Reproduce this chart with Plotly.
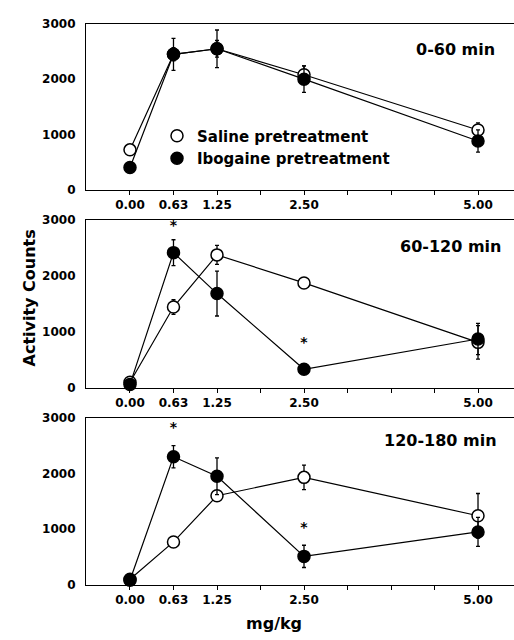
import plotly.graph_objects as go

# ---- data ----
doses = [0.0, 0.625, 1.25, 2.5, 5.0]
tick_vals = [0, 0.625, 1.25, 1.875, 2.5, 3.125, 3.75, 4.375, 5.0]
tick_text = ["0.00", "0.63", "1.25", "", "2.50", "", "", "", "5.00"]
y_ticks = [0, 1000, 2000, 3000]

panel_titles = ["0-60 min", "60-120 min", "120-180 min"]

saline_0_60 = [720, 2450, 2550, 2080, 1080]
saline_0_60_se = [50, 120, 150, 160, 130]
ibogaine_0_60 = [400, 2450, 2550, 2000, 880]
ibogaine_0_60_se = [60, 290, 340, 240, 200]

saline_60_120 = [100, 1440, 2370, 1870, 810]
saline_60_120_se = [40, 130, 170, 60, 300]
ibogaine_60_120 = [60, 2410, 1680, 330, 870]
ibogaine_60_120_se = [40, 230, 400, 80, 280]

saline_120_180 = [100, 770, 1600, 1930, 1240]
saline_120_180_se = [40, 50, 80, 220, 400]
ibogaine_120_180 = [80, 2300, 1950, 510, 950]
ibogaine_120_180_se = [60, 200, 330, 200, 260]

star_x_0_60 = []
star_y_0_60 = []
star_x_60_120 = [0.625, 2.5]
star_y_60_120 = [2870, 790]
star_x_120_180 = [0.625, 2.5]
star_y_120_180 = [2810, 1010]

panels = [
    (saline_0_60, saline_0_60_se, ibogaine_0_60, ibogaine_0_60_se, star_x_0_60, star_y_0_60),
    (saline_60_120, saline_60_120_se, ibogaine_60_120, ibogaine_60_120_se, star_x_60_120, star_y_60_120),
    (saline_120_180, saline_120_180_se, ibogaine_120_180, ibogaine_120_180_se, star_x_120_180, star_y_120_180),
]

# ---- layout geometry (pixels) ----
W, H = 514, 640
FONT = "DejaVu Sans"
panel_px = [(17.3, 186.7), (217.3, 389.3), (420.0, 590.7)]
title_px = [(455, 43), (450, 245), (440, 443)]

fig = go.Figure()

for i, (sal, sal_se, ibo, ibo_se, sx, sy) in enumerate(panels):
    xa = "x" if i == 0 else f"x{i+1}"
    ya = "y" if i == 0 else f"y{i+1}"
    for vals, se, fill, name in [(sal, sal_se, "white", "Saline pretreatment"),
                                 (ibo, ibo_se, "black", "Ibogaine pretreatment")]:
        fig.add_trace(go.Scatter(
            x=doses, y=vals, mode="lines", showlegend=False, hoverinfo="skip",
            xaxis=xa, yaxis=ya, cliponaxis=False,
            line=dict(color="black", width=1.2),
        ))
        fig.add_trace(go.Scatter(
            x=doses, y=vals, mode="markers", name=name,
            xaxis=xa, yaxis=ya, showlegend=(i == 0), cliponaxis=False,
            marker=dict(symbol="circle", size=12, color=fill, line=dict(color="black", width=1.5)),
            error_y=dict(type="data", array=se, visible=True, color="black", thickness=1.3, width=2),
        ))
    if sx:
        fig.add_trace(go.Scatter(
            x=sx, y=sy, mode="text", text=["*"] * len(sx), showlegend=False,
            xaxis=xa, yaxis=ya, cliponaxis=False,
            textfont=dict(family=FONT, size=14, color="black", weight="bold"),
        ))

    top, bot = panel_px[i]
    dom = [1 - bot / H, 1 - top / H]
    xkey = "xaxis" if i == 0 else f"xaxis{i+1}"
    ykey = "yaxis" if i == 0 else f"yaxis{i+1}"
    fig.update_layout(**{
        xkey: dict(
            domain=[86 / W, 1.0], range=[-0.632, 5.517], anchor=ya,
            tickmode="array", tickvals=tick_vals, ticktext=tick_text,
            ticks="outside", ticklen=4, tickwidth=1, tickcolor="black",
            showline=True, linecolor="black", linewidth=1.2, mirror=True,
            showgrid=False, zeroline=False,
            tickfont=dict(family=FONT, size=12, color="black", weight="bold"),
        ),
        ykey: dict(
            domain=dom, range=[0, 3000], anchor=xa,
            tickmode="array", tickvals=y_ticks,
            ticks="", showline=True, linecolor="black", linewidth=1.2,
            showgrid=False, zeroline=False, ticklabelstandoff=7,
            tickfont=dict(family=FONT, size=12, color="black", weight="bold"),
        ),
    })
    tx, ty = title_px[i]
    fig.add_annotation(
        text=panel_titles[i], x=tx / W, y=1 - ty / H, xref="paper", yref="paper",
        xanchor="center", yanchor="middle", showarrow=False,
        font=dict(family=FONT, size=16, color="black", weight="bold"),
    )

fig.add_annotation(
    text="Activity Counts", x=29 / W, y=1 - 298 / H, xref="paper", yref="paper",
    xanchor="center", yanchor="middle", textangle=-90, showarrow=False,
    font=dict(family=FONT, size=16, color="black", weight="bold"),
)
fig.add_annotation(
    text="mg/kg", x=274 / W, y=1 - 630 / H, xref="paper", yref="paper",
    xanchor="center", yanchor="middle", showarrow=False,
    font=dict(family=FONT, size=16, color="black", weight="bold"),
)

fig.update_layout(
    width=W, height=H, margin=dict(l=0, r=0, t=0, b=0),
    paper_bgcolor="white", plot_bgcolor="white",
    font=dict(family=FONT, color="black"),
    legend=dict(
        x=157 / W, y=1 - 115 / H, xanchor="left", yanchor="top",
        bgcolor="rgba(0,0,0,0)", borderwidth=0, tracegroupgap=0,
        font=dict(family=FONT, size=15, color="black", weight="bold"),
        itemwidth=30,
    ),
)

fig.write_html(
    "out.html",
    config={"displayModeBar": False},
    post_script="document.body.style.margin='0';document.body.style.overflow='hidden';",
)
